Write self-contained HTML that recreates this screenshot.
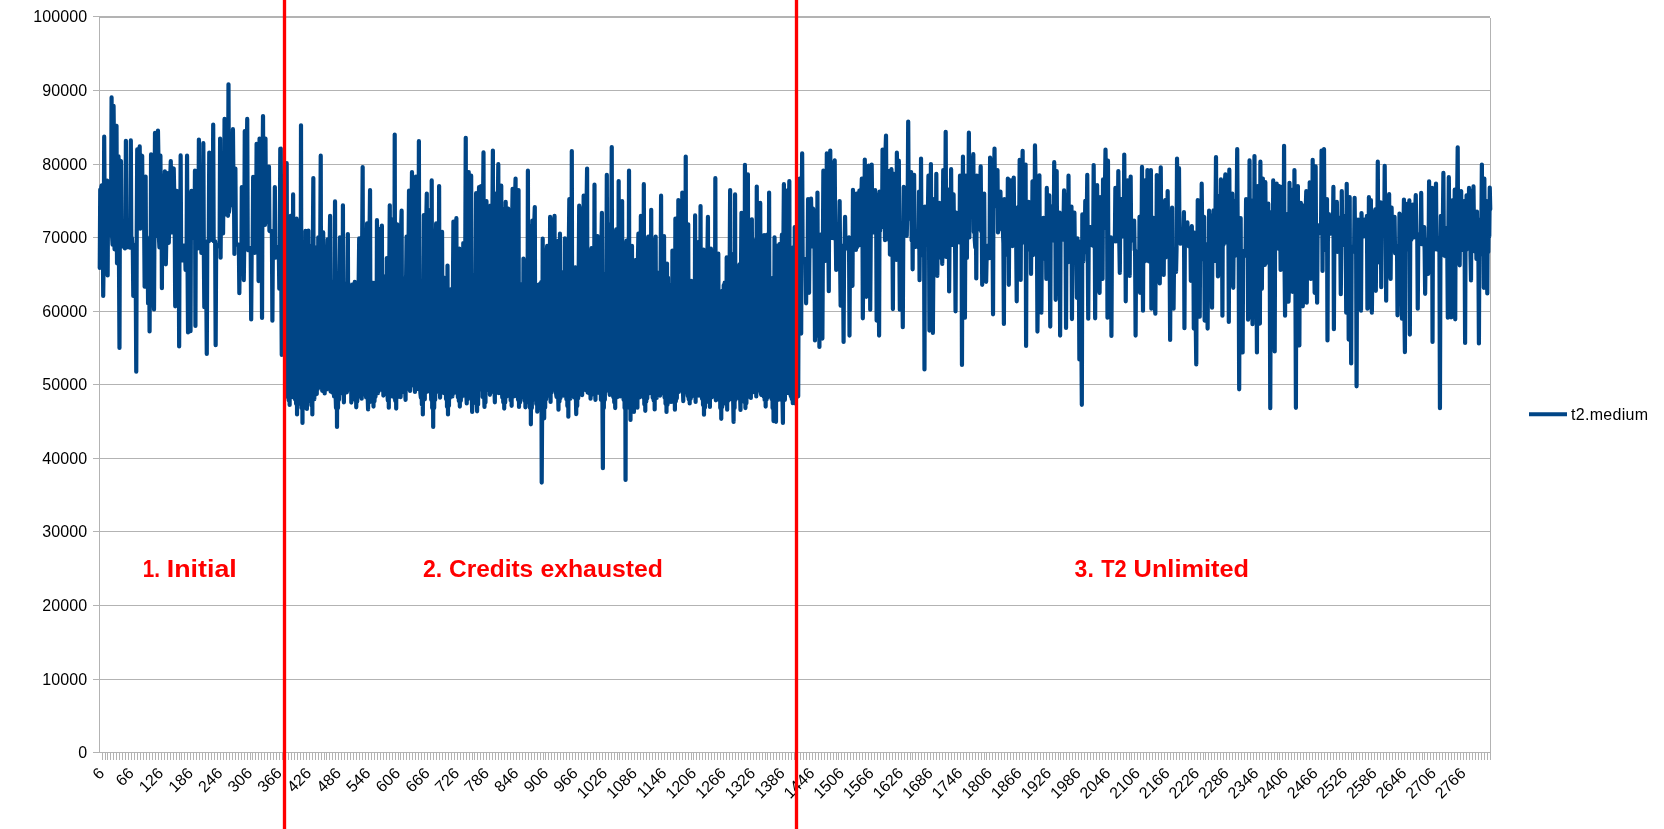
<!DOCTYPE html>
<html><head><meta charset="utf-8"><title>chart</title>
<style>
html,body{margin:0;padding:0;background:#fff;}
body{width:1664px;height:829px;overflow:hidden;font-family:"Liberation Sans",sans-serif;}
svg{display:block;font-family:"Liberation Sans",sans-serif;will-change:transform;-webkit-font-smoothing:antialiased;}
</style></head><body>
<svg width="1664" height="829" viewBox="0 0 1664 829">
<rect width="1664" height="829" fill="#ffffff"/>
<g shape-rendering="crispEdges" fill="#b3b3b3">
<rect x="93" y="752" width="1398" height="1"/>
<rect x="93" y="679" width="1398" height="1"/>
<rect x="93" y="605" width="1398" height="1"/>
<rect x="93" y="531" width="1398" height="1"/>
<rect x="93" y="458" width="1398" height="1"/>
<rect x="93" y="384" width="1398" height="1"/>
<rect x="93" y="311" width="1398" height="1"/>
<rect x="93" y="237" width="1398" height="1"/>
<rect x="93" y="164" width="1398" height="1"/>
<rect x="93" y="90" width="1398" height="1"/>
<rect x="93" y="16" width="6" height="1"/>
<rect x="99" y="16" width="1391" height="2"/>
<rect x="99" y="16" width="1" height="737"/>
<rect x="1490" y="18" width="1" height="742"/>
<path d="M102,753h1v7h-1zM105,753h1v7h-1zM107,753h1v7h-1zM110,753h1v7h-1zM113,753h1v7h-1zM116,753h1v7h-1zM119,753h1v7h-1zM122,753h1v7h-1zM125,753h1v7h-1zM128,753h1v7h-1zM131,753h1v7h-1zM134,753h1v7h-1zM137,753h1v7h-1zM140,753h1v7h-1zM143,753h1v7h-1zM146,753h1v7h-1zM149,753h1v7h-1zM152,753h1v7h-1zM155,753h1v7h-1zM158,753h1v7h-1zM161,753h1v7h-1zM164,753h1v7h-1zM167,753h1v7h-1zM170,753h1v7h-1zM173,753h1v7h-1zM176,753h1v7h-1zM179,753h1v7h-1zM181,753h1v7h-1zM184,753h1v7h-1zM187,753h1v7h-1zM190,753h1v7h-1zM193,753h1v7h-1zM196,753h1v7h-1zM199,753h1v7h-1zM202,753h1v7h-1zM205,753h1v7h-1zM208,753h1v7h-1zM211,753h1v7h-1zM214,753h1v7h-1zM217,753h1v7h-1zM220,753h1v7h-1zM223,753h1v7h-1zM226,753h1v7h-1zM229,753h1v7h-1zM232,753h1v7h-1zM235,753h1v7h-1zM238,753h1v7h-1zM241,753h1v7h-1zM244,753h1v7h-1zM247,753h1v7h-1zM250,753h1v7h-1zM252,753h1v7h-1zM255,753h1v7h-1zM258,753h1v7h-1zM261,753h1v7h-1zM264,753h1v7h-1zM267,753h1v7h-1zM270,753h1v7h-1zM273,753h1v7h-1zM276,753h1v7h-1zM279,753h1v7h-1zM282,753h1v7h-1zM285,753h1v7h-1zM288,753h1v7h-1zM291,753h1v7h-1zM294,753h1v7h-1zM297,753h1v7h-1zM300,753h1v7h-1zM303,753h1v7h-1zM306,753h1v7h-1zM309,753h1v7h-1zM312,753h1v7h-1zM315,753h1v7h-1zM318,753h1v7h-1zM321,753h1v7h-1zM324,753h1v7h-1zM326,753h1v7h-1zM329,753h1v7h-1zM332,753h1v7h-1zM335,753h1v7h-1zM338,753h1v7h-1zM341,753h1v7h-1zM344,753h1v7h-1zM347,753h1v7h-1zM350,753h1v7h-1zM353,753h1v7h-1zM356,753h1v7h-1zM359,753h1v7h-1zM362,753h1v7h-1zM365,753h1v7h-1zM368,753h1v7h-1zM371,753h1v7h-1zM374,753h1v7h-1zM377,753h1v7h-1zM380,753h1v7h-1zM383,753h1v7h-1zM386,753h1v7h-1zM389,753h1v7h-1zM392,753h1v7h-1zM395,753h1v7h-1zM398,753h1v7h-1zM400,753h1v7h-1zM403,753h1v7h-1zM406,753h1v7h-1zM409,753h1v7h-1zM412,753h1v7h-1zM415,753h1v7h-1zM418,753h1v7h-1zM421,753h1v7h-1zM424,753h1v7h-1zM427,753h1v7h-1zM430,753h1v7h-1zM433,753h1v7h-1zM436,753h1v7h-1zM439,753h1v7h-1zM442,753h1v7h-1zM445,753h1v7h-1zM448,753h1v7h-1zM451,753h1v7h-1zM454,753h1v7h-1zM457,753h1v7h-1zM460,753h1v7h-1zM463,753h1v7h-1zM466,753h1v7h-1zM469,753h1v7h-1zM472,753h1v7h-1zM474,753h1v7h-1zM477,753h1v7h-1zM480,753h1v7h-1zM483,753h1v7h-1zM486,753h1v7h-1zM489,753h1v7h-1zM492,753h1v7h-1zM495,753h1v7h-1zM498,753h1v7h-1zM501,753h1v7h-1zM504,753h1v7h-1zM507,753h1v7h-1zM510,753h1v7h-1zM513,753h1v7h-1zM516,753h1v7h-1zM519,753h1v7h-1zM522,753h1v7h-1zM525,753h1v7h-1zM528,753h1v7h-1zM531,753h1v7h-1zM534,753h1v7h-1zM537,753h1v7h-1zM540,753h1v7h-1zM543,753h1v7h-1zM545,753h1v7h-1zM548,753h1v7h-1zM551,753h1v7h-1zM554,753h1v7h-1zM557,753h1v7h-1zM560,753h1v7h-1zM563,753h1v7h-1zM566,753h1v7h-1zM569,753h1v7h-1zM572,753h1v7h-1zM575,753h1v7h-1zM578,753h1v7h-1zM581,753h1v7h-1zM584,753h1v7h-1zM587,753h1v7h-1zM590,753h1v7h-1zM593,753h1v7h-1zM596,753h1v7h-1zM599,753h1v7h-1zM602,753h1v7h-1zM605,753h1v7h-1zM608,753h1v7h-1zM611,753h1v7h-1zM614,753h1v7h-1zM617,753h1v7h-1zM619,753h1v7h-1zM622,753h1v7h-1zM625,753h1v7h-1zM628,753h1v7h-1zM631,753h1v7h-1zM634,753h1v7h-1zM637,753h1v7h-1zM640,753h1v7h-1zM643,753h1v7h-1zM646,753h1v7h-1zM649,753h1v7h-1zM652,753h1v7h-1zM655,753h1v7h-1zM658,753h1v7h-1zM661,753h1v7h-1zM664,753h1v7h-1zM667,753h1v7h-1zM670,753h1v7h-1zM673,753h1v7h-1zM676,753h1v7h-1zM679,753h1v7h-1zM682,753h1v7h-1zM685,753h1v7h-1zM688,753h1v7h-1zM691,753h1v7h-1zM693,753h1v7h-1zM696,753h1v7h-1zM699,753h1v7h-1zM702,753h1v7h-1zM705,753h1v7h-1zM708,753h1v7h-1zM711,753h1v7h-1zM714,753h1v7h-1zM717,753h1v7h-1zM720,753h1v7h-1zM723,753h1v7h-1zM726,753h1v7h-1zM729,753h1v7h-1zM732,753h1v7h-1zM735,753h1v7h-1zM738,753h1v7h-1zM741,753h1v7h-1zM744,753h1v7h-1zM747,753h1v7h-1zM750,753h1v7h-1zM753,753h1v7h-1zM756,753h1v7h-1zM759,753h1v7h-1zM762,753h1v7h-1zM765,753h1v7h-1zM767,753h1v7h-1zM770,753h1v7h-1zM773,753h1v7h-1zM776,753h1v7h-1zM779,753h1v7h-1zM782,753h1v7h-1zM785,753h1v7h-1zM788,753h1v7h-1zM791,753h1v7h-1zM794,753h1v7h-1zM797,753h1v7h-1zM800,753h1v7h-1zM803,753h1v7h-1zM806,753h1v7h-1zM809,753h1v7h-1zM812,753h1v7h-1zM815,753h1v7h-1zM818,753h1v7h-1zM821,753h1v7h-1zM824,753h1v7h-1zM827,753h1v7h-1zM830,753h1v7h-1zM833,753h1v7h-1zM836,753h1v7h-1zM838,753h1v7h-1zM841,753h1v7h-1zM844,753h1v7h-1zM847,753h1v7h-1zM850,753h1v7h-1zM853,753h1v7h-1zM856,753h1v7h-1zM859,753h1v7h-1zM862,753h1v7h-1zM865,753h1v7h-1zM868,753h1v7h-1zM871,753h1v7h-1zM874,753h1v7h-1zM877,753h1v7h-1zM880,753h1v7h-1zM883,753h1v7h-1zM886,753h1v7h-1zM889,753h1v7h-1zM892,753h1v7h-1zM895,753h1v7h-1zM898,753h1v7h-1zM901,753h1v7h-1zM904,753h1v7h-1zM907,753h1v7h-1zM910,753h1v7h-1zM912,753h1v7h-1zM915,753h1v7h-1zM918,753h1v7h-1zM921,753h1v7h-1zM924,753h1v7h-1zM927,753h1v7h-1zM930,753h1v7h-1zM933,753h1v7h-1zM936,753h1v7h-1zM939,753h1v7h-1zM942,753h1v7h-1zM945,753h1v7h-1zM948,753h1v7h-1zM951,753h1v7h-1zM954,753h1v7h-1zM957,753h1v7h-1zM960,753h1v7h-1zM963,753h1v7h-1zM966,753h1v7h-1zM969,753h1v7h-1zM972,753h1v7h-1zM975,753h1v7h-1zM978,753h1v7h-1zM981,753h1v7h-1zM984,753h1v7h-1zM986,753h1v7h-1zM989,753h1v7h-1zM992,753h1v7h-1zM995,753h1v7h-1zM998,753h1v7h-1zM1001,753h1v7h-1zM1004,753h1v7h-1zM1007,753h1v7h-1zM1010,753h1v7h-1zM1013,753h1v7h-1zM1016,753h1v7h-1zM1019,753h1v7h-1zM1022,753h1v7h-1zM1025,753h1v7h-1zM1028,753h1v7h-1zM1031,753h1v7h-1zM1034,753h1v7h-1zM1037,753h1v7h-1zM1040,753h1v7h-1zM1043,753h1v7h-1zM1046,753h1v7h-1zM1049,753h1v7h-1zM1052,753h1v7h-1zM1055,753h1v7h-1zM1058,753h1v7h-1zM1060,753h1v7h-1zM1063,753h1v7h-1zM1066,753h1v7h-1zM1069,753h1v7h-1zM1072,753h1v7h-1zM1075,753h1v7h-1zM1078,753h1v7h-1zM1081,753h1v7h-1zM1084,753h1v7h-1zM1087,753h1v7h-1zM1090,753h1v7h-1zM1093,753h1v7h-1zM1096,753h1v7h-1zM1099,753h1v7h-1zM1102,753h1v7h-1zM1105,753h1v7h-1zM1108,753h1v7h-1zM1111,753h1v7h-1zM1114,753h1v7h-1zM1117,753h1v7h-1zM1120,753h1v7h-1zM1123,753h1v7h-1zM1126,753h1v7h-1zM1129,753h1v7h-1zM1131,753h1v7h-1zM1134,753h1v7h-1zM1137,753h1v7h-1zM1140,753h1v7h-1zM1143,753h1v7h-1zM1146,753h1v7h-1zM1149,753h1v7h-1zM1152,753h1v7h-1zM1155,753h1v7h-1zM1158,753h1v7h-1zM1161,753h1v7h-1zM1164,753h1v7h-1zM1167,753h1v7h-1zM1170,753h1v7h-1zM1173,753h1v7h-1zM1176,753h1v7h-1zM1179,753h1v7h-1zM1182,753h1v7h-1zM1185,753h1v7h-1zM1188,753h1v7h-1zM1191,753h1v7h-1zM1194,753h1v7h-1zM1197,753h1v7h-1zM1200,753h1v7h-1zM1203,753h1v7h-1zM1205,753h1v7h-1zM1208,753h1v7h-1zM1211,753h1v7h-1zM1214,753h1v7h-1zM1217,753h1v7h-1zM1220,753h1v7h-1zM1223,753h1v7h-1zM1226,753h1v7h-1zM1229,753h1v7h-1zM1232,753h1v7h-1zM1235,753h1v7h-1zM1238,753h1v7h-1zM1241,753h1v7h-1zM1244,753h1v7h-1zM1247,753h1v7h-1zM1250,753h1v7h-1zM1253,753h1v7h-1zM1256,753h1v7h-1zM1259,753h1v7h-1zM1262,753h1v7h-1zM1265,753h1v7h-1zM1268,753h1v7h-1zM1271,753h1v7h-1zM1274,753h1v7h-1zM1277,753h1v7h-1zM1279,753h1v7h-1zM1282,753h1v7h-1zM1285,753h1v7h-1zM1288,753h1v7h-1zM1291,753h1v7h-1zM1294,753h1v7h-1zM1297,753h1v7h-1zM1300,753h1v7h-1zM1303,753h1v7h-1zM1306,753h1v7h-1zM1309,753h1v7h-1zM1312,753h1v7h-1zM1315,753h1v7h-1zM1318,753h1v7h-1zM1321,753h1v7h-1zM1324,753h1v7h-1zM1327,753h1v7h-1zM1330,753h1v7h-1zM1333,753h1v7h-1zM1336,753h1v7h-1zM1339,753h1v7h-1zM1342,753h1v7h-1zM1345,753h1v7h-1zM1348,753h1v7h-1zM1351,753h1v7h-1zM1353,753h1v7h-1zM1356,753h1v7h-1zM1359,753h1v7h-1zM1362,753h1v7h-1zM1365,753h1v7h-1zM1368,753h1v7h-1zM1371,753h1v7h-1zM1374,753h1v7h-1zM1377,753h1v7h-1zM1380,753h1v7h-1zM1383,753h1v7h-1zM1386,753h1v7h-1zM1389,753h1v7h-1zM1392,753h1v7h-1zM1395,753h1v7h-1zM1398,753h1v7h-1zM1401,753h1v7h-1zM1404,753h1v7h-1zM1407,753h1v7h-1zM1410,753h1v7h-1zM1413,753h1v7h-1zM1416,753h1v7h-1zM1419,753h1v7h-1zM1422,753h1v7h-1zM1424,753h1v7h-1zM1427,753h1v7h-1zM1430,753h1v7h-1zM1433,753h1v7h-1zM1436,753h1v7h-1zM1439,753h1v7h-1zM1442,753h1v7h-1zM1445,753h1v7h-1zM1448,753h1v7h-1zM1451,753h1v7h-1zM1454,753h1v7h-1zM1457,753h1v7h-1zM1460,753h1v7h-1zM1463,753h1v7h-1zM1466,753h1v7h-1zM1469,753h1v7h-1zM1472,753h1v7h-1zM1475,753h1v7h-1zM1478,753h1v7h-1zM1481,753h1v7h-1zM1484,753h1v7h-1zM1487,753h1v7h-1z"/>
</g>


<text x="87.3" y="758.0" text-anchor="end" font-size="16" fill="#000" letter-spacing="0.1">0</text>
<text x="87.3" y="685.0" text-anchor="end" font-size="16" fill="#000" letter-spacing="0.1">10000</text>
<text x="87.3" y="611.0" text-anchor="end" font-size="16" fill="#000" letter-spacing="0.1">20000</text>
<text x="87.3" y="537.0" text-anchor="end" font-size="16" fill="#000" letter-spacing="0.1">30000</text>
<text x="87.3" y="464.0" text-anchor="end" font-size="16" fill="#000" letter-spacing="0.1">40000</text>
<text x="87.3" y="390.0" text-anchor="end" font-size="16" fill="#000" letter-spacing="0.1">50000</text>
<text x="87.3" y="317.0" text-anchor="end" font-size="16" fill="#000" letter-spacing="0.1">60000</text>
<text x="87.3" y="243.0" text-anchor="end" font-size="16" fill="#000" letter-spacing="0.1">70000</text>
<text x="87.3" y="170.0" text-anchor="end" font-size="16" fill="#000" letter-spacing="0.1">80000</text>
<text x="87.3" y="96.0" text-anchor="end" font-size="16" fill="#000" letter-spacing="0.1">90000</text>
<text x="87.3" y="21.5" text-anchor="end" font-size="16" fill="#000" letter-spacing="0.1">100000</text>

<text transform="translate(105.2,774.3) rotate(-45)" text-anchor="end" font-size="16" fill="#000">6</text>
<text transform="translate(134.8,774.3) rotate(-45)" text-anchor="end" font-size="16" fill="#000">66</text>
<text transform="translate(164.4,774.3) rotate(-45)" text-anchor="end" font-size="16" fill="#000">126</text>
<text transform="translate(194.0,774.3) rotate(-45)" text-anchor="end" font-size="16" fill="#000">186</text>
<text transform="translate(223.6,774.3) rotate(-45)" text-anchor="end" font-size="16" fill="#000">246</text>
<text transform="translate(253.2,774.3) rotate(-45)" text-anchor="end" font-size="16" fill="#000">306</text>
<text transform="translate(282.8,774.3) rotate(-45)" text-anchor="end" font-size="16" fill="#000">366</text>
<text transform="translate(312.4,774.3) rotate(-45)" text-anchor="end" font-size="16" fill="#000">426</text>
<text transform="translate(342.0,774.3) rotate(-45)" text-anchor="end" font-size="16" fill="#000">486</text>
<text transform="translate(371.6,774.3) rotate(-45)" text-anchor="end" font-size="16" fill="#000">546</text>
<text transform="translate(401.2,774.3) rotate(-45)" text-anchor="end" font-size="16" fill="#000">606</text>
<text transform="translate(430.8,774.3) rotate(-45)" text-anchor="end" font-size="16" fill="#000">666</text>
<text transform="translate(460.4,774.3) rotate(-45)" text-anchor="end" font-size="16" fill="#000">726</text>
<text transform="translate(490.0,774.3) rotate(-45)" text-anchor="end" font-size="16" fill="#000">786</text>
<text transform="translate(519.6,774.3) rotate(-45)" text-anchor="end" font-size="16" fill="#000">846</text>
<text transform="translate(549.2,774.3) rotate(-45)" text-anchor="end" font-size="16" fill="#000">906</text>
<text transform="translate(578.8,774.3) rotate(-45)" text-anchor="end" font-size="16" fill="#000">966</text>
<text transform="translate(608.4,774.3) rotate(-45)" text-anchor="end" font-size="16" fill="#000">1026</text>
<text transform="translate(638.0,774.3) rotate(-45)" text-anchor="end" font-size="16" fill="#000">1086</text>
<text transform="translate(667.6,774.3) rotate(-45)" text-anchor="end" font-size="16" fill="#000">1146</text>
<text transform="translate(697.2,774.3) rotate(-45)" text-anchor="end" font-size="16" fill="#000">1206</text>
<text transform="translate(726.8,774.3) rotate(-45)" text-anchor="end" font-size="16" fill="#000">1266</text>
<text transform="translate(756.4,774.3) rotate(-45)" text-anchor="end" font-size="16" fill="#000">1326</text>
<text transform="translate(785.9,774.3) rotate(-45)" text-anchor="end" font-size="16" fill="#000">1386</text>
<text transform="translate(815.5,774.3) rotate(-45)" text-anchor="end" font-size="16" fill="#000">1446</text>
<text transform="translate(845.1,774.3) rotate(-45)" text-anchor="end" font-size="16" fill="#000">1506</text>
<text transform="translate(874.7,774.3) rotate(-45)" text-anchor="end" font-size="16" fill="#000">1566</text>
<text transform="translate(904.3,774.3) rotate(-45)" text-anchor="end" font-size="16" fill="#000">1626</text>
<text transform="translate(933.9,774.3) rotate(-45)" text-anchor="end" font-size="16" fill="#000">1686</text>
<text transform="translate(963.5,774.3) rotate(-45)" text-anchor="end" font-size="16" fill="#000">1746</text>
<text transform="translate(993.1,774.3) rotate(-45)" text-anchor="end" font-size="16" fill="#000">1806</text>
<text transform="translate(1022.7,774.3) rotate(-45)" text-anchor="end" font-size="16" fill="#000">1866</text>
<text transform="translate(1052.3,774.3) rotate(-45)" text-anchor="end" font-size="16" fill="#000">1926</text>
<text transform="translate(1081.9,774.3) rotate(-45)" text-anchor="end" font-size="16" fill="#000">1986</text>
<text transform="translate(1111.5,774.3) rotate(-45)" text-anchor="end" font-size="16" fill="#000">2046</text>
<text transform="translate(1141.1,774.3) rotate(-45)" text-anchor="end" font-size="16" fill="#000">2106</text>
<text transform="translate(1170.7,774.3) rotate(-45)" text-anchor="end" font-size="16" fill="#000">2166</text>
<text transform="translate(1200.3,774.3) rotate(-45)" text-anchor="end" font-size="16" fill="#000">2226</text>
<text transform="translate(1229.9,774.3) rotate(-45)" text-anchor="end" font-size="16" fill="#000">2286</text>
<text transform="translate(1259.5,774.3) rotate(-45)" text-anchor="end" font-size="16" fill="#000">2346</text>
<text transform="translate(1289.1,774.3) rotate(-45)" text-anchor="end" font-size="16" fill="#000">2406</text>
<text transform="translate(1318.7,774.3) rotate(-45)" text-anchor="end" font-size="16" fill="#000">2466</text>
<text transform="translate(1348.3,774.3) rotate(-45)" text-anchor="end" font-size="16" fill="#000">2526</text>
<text transform="translate(1377.9,774.3) rotate(-45)" text-anchor="end" font-size="16" fill="#000">2586</text>
<text transform="translate(1407.5,774.3) rotate(-45)" text-anchor="end" font-size="16" fill="#000">2646</text>
<text transform="translate(1437.1,774.3) rotate(-45)" text-anchor="end" font-size="16" fill="#000">2706</text>
<text transform="translate(1466.7,774.3) rotate(-45)" text-anchor="end" font-size="16" fill="#000">2766</text>

<polyline points="99.75,268.0 100.24,189.5 100.73,230.4 101.23,187.5 101.72,185.3 102.21,264.6 102.71,219.1 103.20,296.0 103.69,254.1 104.19,136.7 104.68,207.6 105.17,253.7 105.67,221.9 106.16,257.0 106.65,239.7 107.15,180.6 107.64,275.5 108.13,189.0 108.63,213.9 109.12,221.1 109.61,189.2 110.11,234.4 110.60,204.8 111.09,205.9 111.58,97.4 112.08,236.1 112.57,244.7 113.06,163.5 113.56,105.8 114.05,152.3 114.54,249.3 115.04,128.3 115.53,196.0 116.02,127.9 116.52,125.8 117.01,263.3 117.50,161.0 118.00,255.6 118.49,156.3 118.98,261.1 119.48,348.0 119.97,171.0 120.46,163.2 120.96,161.0 121.45,246.1 121.94,243.8 122.44,246.3 122.93,243.9 123.42,245.1 123.92,243.8 124.41,245.3 124.90,248.4 125.40,243.9 125.89,140.8 126.38,247.1 126.88,247.1 127.37,247.1 127.86,247.1 128.36,247.1 128.85,247.1 129.34,247.1 129.84,247.6 130.33,247.6 130.82,140.4 131.32,247.3 131.81,237.7 132.30,244.7 132.80,246.9 133.29,296.0 133.78,248.8 134.28,294.0 134.77,283.3 135.26,245.0 135.75,282.4 136.25,371.7 136.74,230.6 137.23,149.4 137.73,225.5 138.22,153.2 138.71,167.5 139.21,197.0 139.70,146.4 140.19,228.7 140.69,163.1 141.18,226.7 141.67,158.9 142.17,155.7 142.66,226.2 143.15,178.9 143.65,208.6 144.14,222.8 144.63,286.7 145.13,192.9 145.62,176.5 146.11,277.1 146.61,237.1 147.10,268.2 147.59,239.2 148.09,303.5 148.58,299.4 149.07,239.6 149.57,331.5 150.06,241.5 150.55,296.9 151.05,154.4 151.54,268.5 152.03,230.7 152.53,305.5 153.02,190.8 153.51,253.5 154.01,309.5 154.50,221.8 154.99,132.9 155.49,201.7 155.98,230.0 156.47,148.1 156.97,175.4 157.46,236.1 157.95,130.5 158.44,158.9 158.94,237.9 159.43,247.4 159.92,161.6 160.42,155.7 160.91,227.8 161.40,175.1 161.90,288.2 162.39,180.1 162.88,232.7 163.38,190.2 163.87,177.9 164.36,250.7 164.86,171.3 165.35,219.5 165.84,264.3 166.34,236.7 166.83,217.5 167.32,207.7 167.82,173.1 168.31,232.5 168.80,242.8 169.30,215.2 169.79,230.4 170.28,176.3 170.78,161.0 171.27,229.7 171.76,232.5 172.26,205.6 172.75,186.6 173.24,170.5 173.74,168.5 174.23,193.9 174.72,225.0 175.22,306.3 175.71,194.3 176.20,272.8 176.70,190.9 177.19,293.9 177.68,233.6 178.18,303.5 178.67,224.3 179.16,346.5 179.66,194.1 180.15,257.9 180.64,155.4 181.13,252.4 181.63,244.6 182.12,256.0 182.61,260.5 183.11,249.4 183.60,256.0 184.09,245.6 184.59,258.2 185.08,251.7 185.57,269.9 186.07,252.4 186.56,261.7 187.05,155.7 187.55,265.5 188.04,332.5 188.53,323.9 189.03,193.9 189.52,311.9 190.01,196.8 190.51,331.2 191.00,196.6 191.49,190.9 191.99,206.1 192.48,233.4 192.97,193.4 193.47,229.7 193.96,193.5 194.45,238.1 194.95,170.7 195.44,325.9 195.93,179.1 196.43,245.7 196.92,239.9 197.41,182.5 197.91,248.4 198.40,235.2 198.89,139.5 199.39,246.0 199.88,165.3 200.37,244.8 200.87,179.1 201.36,253.0 201.85,195.1 202.35,242.4 202.84,249.6 203.33,143.2 203.82,249.9 204.32,307.2 204.81,257.2 205.30,305.2 205.80,271.6 206.29,289.3 206.78,354.0 207.28,241.4 207.77,241.4 208.26,241.4 208.76,241.4 209.25,152.6 209.74,211.7 210.24,191.7 210.73,201.9 211.22,164.7 211.72,240.0 212.21,165.4 212.70,224.4 213.20,124.5 213.69,241.3 214.18,241.3 214.68,241.3 215.17,241.3 215.66,345.2 216.16,245.1 216.65,245.2 217.14,244.7 217.64,246.0 218.13,244.9 218.62,246.1 219.12,244.5 219.61,245.8 220.10,138.6 220.60,257.7 221.09,191.7 221.58,211.1 222.08,167.5 222.57,225.1 223.06,233.4 223.56,173.6 224.05,215.3 224.54,118.9 225.04,192.4 225.53,151.3 226.02,157.1 226.52,191.1 227.01,194.4 227.50,159.8 227.99,215.8 228.49,84.3 228.98,212.0 229.47,207.6 229.97,133.6 230.46,205.6 230.95,143.1 231.45,144.0 231.94,199.4 232.43,162.6 232.93,129.2 233.42,179.3 233.91,183.3 234.41,254.0 234.90,178.7 235.39,168.5 235.89,243.3 236.38,243.9 236.87,244.6 237.37,244.6 237.86,244.6 238.35,244.6 238.85,244.6 239.34,293.2 239.83,247.1 240.33,270.2 240.82,262.3 241.31,273.1 241.81,187.1 242.30,256.2 242.79,193.5 243.29,197.8 243.78,280.1 244.27,242.6 244.77,131.1 245.26,226.9 245.75,188.9 246.25,205.4 246.74,158.2 247.23,118.9 247.73,248.0 248.22,250.2 248.71,247.8 249.21,248.2 249.70,247.9 250.19,248.1 250.68,247.9 251.18,319.4 251.67,250.0 252.16,247.9 252.66,250.1 253.15,176.9 253.64,215.7 254.14,209.9 254.63,253.0 255.12,184.8 255.62,245.8 256.11,233.4 256.60,143.8 257.10,250.9 257.59,236.9 258.08,194.0 258.58,281.1 259.07,189.7 259.56,138.6 260.06,275.3 260.55,173.3 261.04,252.6 261.54,202.3 262.03,317.9 262.52,168.7 263.02,116.1 263.51,221.8 264.00,162.7 264.50,183.5 264.99,225.0 265.48,138.6 265.98,220.4 266.47,183.2 266.96,176.2 267.46,221.8 267.95,176.1 268.44,194.9 268.94,166.6 269.43,230.7 269.92,231.2 270.42,231.2 270.91,231.2 271.40,231.2 271.90,231.2 272.39,320.7 272.88,242.8 273.38,240.4 273.87,241.1 274.36,255.5 274.85,187.1 275.35,257.7 275.84,249.1 276.33,252.7 276.83,246.8 277.32,252.8 277.81,247.5 278.31,254.6 278.80,249.9 279.29,288.6 279.79,246.4 280.28,148.8 280.77,148.6 281.27,271.9 281.76,354.9 282.25,240.9 282.75,240.9 283.24,241.1 283.73,241.1 284.23,240.9 284.72,241.1 285.21,240.9 285.71,241.1 286.20,240.1 286.69,163.2 287.19,392.6 287.68,396.9 288.17,223.3 288.67,400.3 289.16,219.4 289.65,405.0 290.15,223.6 290.64,215.9 291.13,385.3 291.63,396.8 292.12,229.5 292.61,397.1 293.11,194.4 293.60,389.7 294.09,236.4 294.59,390.9 295.08,399.4 295.57,222.1 296.07,403.7 296.56,218.7 297.05,414.4 297.54,255.2 298.04,404.0 298.53,220.8 299.02,397.6 299.52,235.0 300.01,403.0 300.50,399.8 301.00,125.3 301.49,408.0 301.98,252.1 302.48,423.0 302.97,246.9 303.46,408.0 303.96,246.2 304.45,399.8 304.94,397.3 305.44,230.9 305.93,401.3 306.42,250.9 306.92,408.9 307.41,234.3 307.90,401.2 308.40,230.5 308.89,397.4 309.38,265.1 309.88,401.5 310.37,399.6 310.86,245.8 311.36,405.3 311.85,257.7 312.34,414.4 312.84,248.6 313.33,178.0 313.82,390.7 314.32,399.2 314.81,259.3 315.30,392.0 315.80,247.7 316.29,391.8 316.78,394.0 317.28,250.9 317.77,389.0 318.26,237.4 318.76,381.4 319.25,239.5 319.74,385.8 320.23,244.7 320.73,155.7 321.22,387.4 321.71,241.6 322.21,390.8 322.70,241.9 323.19,232.4 323.69,391.4 324.18,259.4 324.67,393.5 325.17,255.4 325.66,387.2 326.15,246.5 326.65,389.5 327.14,254.5 327.63,239.3 328.13,388.0 328.62,241.5 329.11,380.0 329.61,248.6 330.10,215.9 330.59,391.6 331.09,286.1 331.58,391.4 332.07,287.1 332.57,392.7 333.06,281.5 333.55,386.3 334.05,396.4 334.54,281.6 335.03,201.4 335.53,393.1 336.02,408.0 336.51,273.5 337.01,426.9 337.50,285.4 337.99,408.0 338.49,272.5 338.98,399.8 339.47,269.5 339.97,237.4 340.46,393.5 340.95,252.1 341.45,390.5 341.94,253.0 342.43,392.8 342.93,205.3 343.42,388.8 343.91,402.3 344.40,286.7 344.90,392.7 345.39,289.8 345.88,391.6 346.38,283.4 346.87,392.3 347.36,289.5 347.86,234.1 348.35,383.4 348.84,284.0 349.34,389.2 349.83,291.8 350.32,389.8 350.82,289.9 351.31,402.6 351.80,285.7 352.30,394.4 352.79,284.3 353.28,396.5 353.78,289.3 354.27,396.4 354.76,281.9 355.26,400.1 355.75,294.6 356.24,407.3 356.74,283.6 357.23,401.6 357.72,286.1 358.22,396.4 358.71,277.9 359.20,238.4 359.70,391.6 360.19,243.4 360.68,391.9 361.18,249.5 361.67,398.7 362.16,242.7 362.66,167.0 363.15,388.6 363.64,231.5 364.14,394.3 364.63,237.9 365.12,390.4 365.62,231.6 366.11,397.4 366.60,251.3 367.09,223.4 367.59,393.0 368.08,409.4 368.57,231.9 369.07,402.4 369.56,232.3 370.05,190.1 370.55,399.6 371.04,283.5 371.53,396.8 372.03,282.7 372.52,402.0 373.01,298.3 373.51,406.6 374.00,282.8 374.49,401.2 374.99,292.6 375.48,396.8 375.97,283.2 376.47,388.9 376.96,220.2 377.45,383.1 377.95,393.2 378.44,232.4 378.93,390.8 379.43,229.0 379.92,389.9 380.41,255.2 380.91,386.3 381.40,235.4 381.89,225.7 382.39,389.4 382.88,276.6 383.37,395.6 383.87,276.4 384.36,391.9 384.85,285.0 385.35,389.7 385.84,276.9 386.33,393.0 386.83,258.0 387.32,391.8 387.81,400.5 388.31,265.6 388.80,407.7 389.29,267.8 389.78,205.3 390.28,394.1 390.77,396.4 391.26,235.9 391.76,388.0 392.25,219.7 392.74,385.2 393.24,231.9 393.73,391.7 394.22,397.6 394.72,134.6 395.21,400.8 395.70,235.8 396.20,408.6 396.69,243.7 397.18,224.3 397.68,384.9 398.17,396.8 398.66,241.6 399.16,392.7 399.65,230.2 400.14,392.1 400.64,397.1 401.13,227.5 401.62,210.7 402.12,385.1 402.61,278.1 403.10,388.1 403.60,279.5 404.09,392.3 404.58,283.7 405.08,388.3 405.57,399.8 406.06,282.0 406.56,236.5 407.05,388.8 407.54,244.7 408.04,385.9 408.53,249.0 409.02,190.7 409.52,383.4 410.01,390.9 410.50,205.3 411.00,385.8 411.49,220.7 411.98,172.0 412.48,379.8 412.97,185.8 413.46,383.1 413.95,183.7 414.45,381.3 414.94,392.0 415.43,183.7 415.93,176.7 416.42,382.2 416.91,180.7 417.41,380.9 417.90,197.1 418.39,389.2 418.89,141.2 419.38,384.5 419.87,282.4 420.37,393.1 420.86,397.6 421.35,288.5 421.85,404.4 422.34,283.5 422.83,414.4 423.33,287.4 423.82,215.0 424.31,389.0 424.81,399.3 425.30,224.9 425.79,387.6 426.29,220.4 426.78,193.5 427.27,391.7 427.77,239.7 428.26,389.0 428.75,220.4 429.25,210.3 429.74,384.9 430.23,213.4 430.73,374.9 431.22,399.8 431.71,180.4 432.21,408.0 432.70,233.9 433.19,426.9 433.69,233.8 434.18,408.0 434.67,235.9 435.17,399.8 435.66,247.4 436.15,223.4 436.64,391.5 437.14,228.2 437.63,390.8 438.12,236.4 438.62,391.9 439.11,186.0 439.60,382.9 440.10,397.6 440.59,243.0 441.08,387.3 441.58,236.9 442.07,231.8 442.56,387.0 443.06,281.9 443.55,384.0 444.04,393.2 444.54,277.9 445.03,384.0 445.52,281.8 446.02,399.1 446.51,281.7 447.00,406.7 447.50,265.5 447.99,414.4 448.48,289.5 448.98,405.7 449.47,291.7 449.96,397.8 450.46,289.4 450.95,393.7 451.44,293.4 451.94,388.8 452.43,396.4 452.92,290.2 453.42,221.5 453.91,389.2 454.40,250.6 454.90,392.7 455.39,231.1 455.88,388.4 456.38,218.2 456.87,384.2 457.36,255.5 457.86,397.3 458.35,263.0 458.84,400.9 459.33,248.6 459.83,406.6 460.32,254.5 460.81,400.8 461.31,264.5 461.80,396.7 462.29,255.6 462.79,389.8 463.28,243.0 463.77,388.4 464.27,246.5 464.76,395.7 465.25,256.5 465.75,137.8 466.24,390.8 466.73,403.4 467.23,185.8 467.72,399.3 468.21,178.6 468.71,172.0 469.20,396.5 469.69,195.4 470.19,397.7 470.68,188.7 471.17,175.7 471.67,390.4 472.16,412.0 472.65,274.8 473.15,403.3 473.64,279.3 474.13,397.4 474.63,275.2 475.12,397.7 475.61,280.5 476.11,193.1 476.60,397.3 477.09,411.3 477.59,208.9 478.08,404.6 478.57,208.1 479.07,187.0 479.56,387.4 480.05,220.1 480.55,387.7 481.04,186.0 481.53,389.8 482.03,192.5 482.52,397.0 483.01,208.3 483.50,152.4 484.00,386.1 484.49,407.0 484.98,219.0 485.48,402.5 485.97,207.8 486.46,201.0 486.96,390.4 487.45,237.4 487.94,387.9 488.44,223.0 488.93,385.9 489.42,216.4 489.92,394.8 490.41,205.7 490.90,392.3 491.40,227.6 491.89,380.8 492.38,218.8 492.88,150.5 493.37,391.1 493.86,198.3 494.36,383.0 494.85,402.3 495.34,201.7 495.84,193.5 496.33,384.3 496.82,205.7 497.32,383.5 497.81,206.0 498.30,164.2 498.80,393.2 499.29,192.8 499.78,377.7 500.28,192.2 500.77,390.4 501.26,185.7 501.76,376.5 502.25,397.5 502.74,208.8 503.24,402.2 503.73,215.1 504.22,408.6 504.72,214.0 505.21,402.4 505.70,201.9 506.19,396.8 506.69,225.7 507.18,387.5 507.67,226.0 508.17,208.5 508.66,391.1 509.15,218.6 509.65,396.3 510.14,212.7 510.63,400.2 511.13,210.6 511.62,405.8 512.11,223.1 512.61,188.8 513.10,390.5 513.59,396.5 514.09,219.9 514.58,391.4 515.07,196.6 515.57,178.6 516.06,392.6 516.55,196.5 517.05,396.6 517.54,209.5 518.03,399.8 518.53,190.1 519.02,407.0 519.51,287.6 520.01,402.5 520.50,284.2 520.99,397.2 521.49,288.0 521.98,393.0 522.47,292.3 522.97,397.1 523.46,258.6 523.95,393.9 524.45,400.6 524.94,261.2 525.43,407.3 525.93,271.3 526.42,402.4 526.91,271.0 527.41,397.2 527.90,170.7 528.39,395.4 528.88,399.8 529.38,226.4 529.87,407.7 530.36,236.5 530.86,424.3 531.35,235.7 531.84,408.0 532.34,220.6 532.83,399.8 533.32,226.5 533.82,394.8 534.31,222.7 534.80,207.0 535.30,397.4 535.79,286.3 536.28,403.9 536.78,287.2 537.27,411.7 537.76,286.4 538.26,402.1 538.75,284.5 539.24,398.7 539.74,399.8 540.23,283.5 540.72,408.0 541.22,282.0 541.71,482.6 542.20,399.2 542.70,238.7 543.19,408.0 543.68,399.8 544.18,418.3 544.67,250.3 545.16,407.5 545.66,258.2 546.15,399.3 546.64,253.2 547.14,245.8 547.63,388.2 548.12,249.0 548.62,392.1 549.11,248.8 549.60,396.0 550.10,216.9 550.59,401.9 551.08,243.8 551.58,392.5 552.07,234.6 552.56,390.0 553.05,222.8 553.55,381.2 554.04,221.4 554.53,215.9 555.03,389.5 555.52,253.8 556.01,392.9 556.51,396.8 557.00,250.3 557.49,241.2 557.99,385.2 558.48,409.7 558.97,250.8 559.47,401.5 559.96,233.7 560.45,398.1 560.95,275.1 561.44,392.3 561.93,278.7 562.43,393.5 562.92,272.1 563.41,395.6 563.91,290.0 564.40,391.0 564.89,238.4 565.39,390.7 565.88,245.1 566.37,399.2 566.87,255.1 567.36,406.1 567.85,257.3 568.35,416.7 568.84,243.3 569.33,199.1 569.83,389.8 570.32,398.7 570.81,220.3 571.31,392.0 571.80,151.1 572.29,392.0 572.79,271.5 573.28,395.3 573.77,270.1 574.27,397.6 574.76,269.3 575.25,267.3 575.74,390.6 576.24,414.1 576.73,270.5 577.22,406.1 577.72,270.7 578.21,398.3 578.70,271.7 579.20,205.7 579.69,390.9 580.18,219.3 580.68,389.8 581.17,208.3 581.66,389.4 582.16,395.1 582.65,209.2 583.14,389.1 583.64,195.7 584.13,379.4 584.62,215.9 585.12,390.0 585.61,198.5 586.10,378.1 586.60,202.2 587.09,168.6 587.58,392.6 588.08,253.1 588.57,391.5 589.06,264.3 589.56,393.6 590.05,271.4 590.54,398.7 591.04,259.0 591.53,248.1 592.02,391.5 592.52,260.2 593.01,385.8 593.50,253.4 594.00,394.7 594.49,184.7 594.98,390.0 595.48,399.8 595.97,251.8 596.46,387.5 596.96,241.9 597.45,236.1 597.94,386.0 598.43,239.6 598.93,393.0 599.42,241.9 599.91,389.8 600.41,242.3 600.90,399.8 601.39,246.5 601.89,212.8 602.38,395.5 602.87,468.2 603.37,286.7 603.86,408.0 604.35,289.5 604.85,399.8 605.34,273.5 605.83,391.0 606.33,276.7 606.82,174.8 607.31,387.2 607.81,228.1 608.30,386.7 608.79,224.3 609.29,388.7 609.78,394.8 610.27,227.5 610.77,391.9 611.26,230.7 611.75,147.1 612.25,391.4 612.74,248.9 613.23,397.1 613.73,238.2 614.22,402.2 614.71,234.8 615.21,408.1 615.70,233.2 616.19,229.4 616.69,389.6 617.18,397.2 617.67,245.3 618.17,388.1 618.66,181.0 619.15,389.1 619.65,223.7 620.14,396.4 620.63,222.0 621.12,389.4 621.62,218.8 622.11,201.0 622.60,391.0 623.10,247.9 623.59,399.8 624.08,259.8 624.58,408.0 625.07,243.0 625.56,479.9 626.06,257.2 626.55,240.6 627.04,399.1 627.54,399.8 628.03,253.1 628.52,399.8 629.02,170.7 629.51,408.0 630.00,255.4 630.50,419.9 630.99,248.7 631.48,407.1 631.98,245.8 632.47,399.8 632.96,405.5 633.46,268.4 633.95,412.0 634.44,270.0 634.94,402.2 635.43,396.4 635.92,259.9 636.42,402.8 636.91,265.3 637.40,407.7 637.90,262.3 638.39,233.7 638.88,390.8 639.38,397.4 639.87,255.2 640.36,391.8 640.86,215.9 641.35,388.6 641.84,218.0 642.34,391.0 642.83,223.9 643.32,397.6 643.82,184.2 644.31,404.3 644.80,259.5 645.29,410.8 645.79,254.0 646.28,401.6 646.77,244.5 647.27,398.3 647.76,239.4 648.25,236.5 648.75,384.4 649.24,241.2 649.73,393.2 650.23,240.1 650.72,376.8 651.21,209.8 651.71,390.7 652.20,260.9 652.69,397.7 653.19,245.9 653.68,400.5 654.17,239.8 654.67,409.4 655.16,252.3 655.65,236.5 656.15,392.1 656.64,397.9 657.13,274.6 657.63,392.1 658.12,272.9 658.61,389.8 659.11,278.2 659.60,391.3 660.09,395.6 660.59,275.7 661.08,195.7 661.57,386.1 662.07,246.7 662.56,390.0 663.05,255.7 663.55,393.2 664.04,236.1 664.53,397.6 665.03,272.1 665.52,403.8 666.01,269.2 666.51,412.0 667.00,263.6 667.49,404.7 667.98,277.5 668.48,397.5 668.97,285.2 669.46,394.1 669.96,285.0 670.45,398.8 670.94,401.9 671.44,290.7 671.93,395.3 672.42,250.5 672.92,397.3 673.41,262.6 673.90,402.0 674.40,270.2 674.89,409.7 675.38,218.7 675.88,401.3 676.37,224.4 676.86,398.2 677.36,235.9 677.85,389.5 678.34,200.0 678.84,391.9 679.33,202.1 679.82,390.3 680.32,222.5 680.81,386.8 681.30,219.7 681.80,385.5 682.29,192.6 682.78,383.7 683.28,401.1 683.77,199.5 684.26,389.3 684.76,227.7 685.25,388.3 685.74,156.5 686.24,393.0 686.73,231.9 687.22,381.5 687.72,395.9 688.21,224.3 688.70,399.3 689.20,281.2 689.69,403.4 690.18,286.2 690.68,398.7 691.17,280.9 691.66,396.5 692.15,288.4 692.65,391.5 693.14,283.2 693.63,392.3 694.13,283.7 694.62,387.9 695.11,215.4 695.61,401.9 696.10,253.1 696.59,389.4 697.09,249.6 697.58,391.0 698.07,242.1 698.57,386.0 699.06,395.6 699.55,244.3 700.05,383.9 700.54,206.0 701.03,388.9 701.53,254.1 702.02,398.7 702.51,265.6 703.01,404.9 703.50,249.6 703.99,414.7 704.49,255.3 704.98,407.6 705.47,257.0 705.97,398.7 706.46,266.7 706.95,396.8 707.45,251.6 707.94,216.9 708.43,398.4 708.93,402.3 709.42,258.4 709.91,407.0 710.41,262.7 710.90,248.6 711.39,394.9 711.89,397.2 712.38,268.2 712.87,394.7 713.37,250.9 713.86,391.9 714.35,260.9 714.84,388.2 715.34,178.2 715.83,400.3 716.32,274.4 716.82,391.6 717.31,271.2 717.80,395.3 718.30,253.7 718.79,396.8 719.28,399.8 719.78,292.1 720.27,407.9 720.76,291.7 721.26,418.8 721.75,297.5 722.24,406.9 722.74,290.5 723.23,399.4 723.72,285.2 724.22,397.6 724.71,282.6 725.20,397.4 725.70,295.1 726.19,404.1 726.68,257.4 727.18,409.7 727.67,265.0 728.16,400.8 728.66,264.7 729.15,397.6 729.64,271.5 730.14,190.1 730.63,387.2 731.12,263.5 731.62,399.6 732.11,278.1 732.60,254.3 733.10,397.0 733.59,421.9 734.08,257.7 734.58,408.0 735.07,194.4 735.56,399.8 736.06,283.9 736.55,394.3 737.04,266.6 737.53,393.2 738.03,280.9 738.52,397.9 739.01,267.1 739.51,264.5 740.00,391.2 740.49,410.0 740.99,271.4 741.48,212.8 741.97,398.1 742.47,397.9 742.96,215.8 743.45,396.9 743.95,215.1 744.44,402.1 744.93,164.9 745.43,408.1 745.92,190.7 746.41,403.2 746.91,194.9 747.40,397.0 747.89,174.3 748.39,387.5 748.88,235.6 749.37,390.1 749.87,222.4 750.36,391.3 750.85,397.9 751.35,224.0 751.84,219.3 752.33,391.1 752.83,250.1 753.32,392.1 753.81,252.7 754.31,390.6 754.80,240.2 755.29,392.3 755.79,258.8 756.28,396.4 756.77,186.6 757.27,387.8 757.76,206.9 758.25,390.1 758.75,220.1 759.24,388.2 759.73,241.9 760.23,202.9 760.72,392.6 761.21,394.8 761.70,253.0 762.20,387.0 762.69,264.3 763.18,390.0 763.68,396.5 764.17,235.2 764.66,399.9 765.16,238.0 765.65,406.6 766.14,240.0 766.64,399.4 767.13,234.6 767.62,397.3 768.12,240.5 768.61,391.8 769.10,192.6 769.60,390.0 770.09,283.9 770.58,388.8 771.08,283.4 771.57,399.1 772.06,278.0 772.56,408.0 773.05,286.2 773.54,421.1 774.04,399.8 774.53,237.4 775.02,408.0 775.52,399.8 776.01,421.8 776.50,255.3 777.00,245.8 777.49,392.9 777.98,399.8 778.48,255.2 778.97,395.4 779.46,244.0 779.96,397.6 780.45,258.2 780.94,399.8 781.44,259.7 781.93,234.6 782.42,395.2 782.92,423.0 783.41,243.5 783.90,184.2 784.39,393.8 784.89,399.8 785.38,199.2 785.87,380.7 786.37,199.5 786.86,190.7 787.35,385.3 787.85,200.5 788.34,393.2 788.83,217.6 789.33,181.0 789.82,381.8 790.31,262.1 790.81,396.2 791.30,252.0 791.79,398.9 792.29,252.2 792.78,403.2 793.27,247.3 793.77,399.3 794.26,398.4 794.75,227.1 795.25,403.4 795.74,245.4 796.23,398.1 796.73,236.1 797.22,396.0 797.71,386.2 798.21,396.3 798.70,248.6 799.19,328.2 799.69,178.6 800.18,303.8 800.67,239.4 801.17,333.6 801.66,208.6 802.15,153.3 802.65,259.6 803.14,259.6 803.63,259.6 804.13,259.6 804.62,258.9 805.11,259.6 805.61,259.6 806.10,303.3 806.59,262.0 807.08,290.8 807.58,270.8 808.07,199.1 808.56,211.7 809.06,292.8 809.55,235.0 810.04,240.4 810.54,203.5 811.03,198.6 811.52,220.6 812.02,246.4 812.51,211.0 813.00,208.5 813.50,210.5 813.99,226.6 814.48,241.3 814.98,340.5 815.47,210.5 815.96,335.9 816.46,213.0 816.95,335.6 817.44,192.6 817.94,316.5 818.43,319.6 818.92,237.8 819.42,346.9 819.91,270.2 820.40,234.6 820.90,335.7 821.39,316.6 821.88,255.2 822.38,338.6 822.87,253.9 823.36,170.7 823.86,207.8 824.35,252.8 824.84,176.1 825.34,261.0 825.83,252.3 826.32,252.4 826.82,153.3 827.31,241.8 827.80,157.1 828.30,240.5 828.79,291.2 829.28,158.7 829.77,219.1 830.27,150.5 830.76,238.1 831.25,167.7 831.75,195.8 832.24,218.1 832.73,179.7 833.23,238.2 833.72,175.1 834.21,163.0 834.71,160.4 835.20,238.6 835.69,231.5 836.19,269.9 836.68,240.7 837.17,257.1 837.67,230.1 838.16,256.1 838.65,234.7 839.15,233.9 839.64,201.0 840.13,264.0 840.63,305.7 841.12,280.2 841.61,258.0 842.11,245.8 842.60,295.2 843.09,275.7 843.59,341.9 844.08,251.7 844.57,248.0 845.07,216.9 845.56,248.1 846.05,242.7 846.55,248.3 847.04,240.1 847.53,247.9 848.03,242.7 848.52,240.0 849.01,237.4 849.51,335.6 850.00,242.0 850.49,283.6 850.99,283.0 851.48,253.6 851.97,278.8 852.47,285.8 852.96,189.8 853.45,241.3 853.94,195.9 854.44,230.2 854.93,214.3 855.42,235.7 855.92,250.0 856.41,193.5 856.90,247.5 857.40,219.9 857.89,239.1 858.38,205.3 858.88,245.5 859.37,190.7 859.86,192.7 860.36,206.6 860.85,244.8 861.34,195.3 861.84,178.6 862.33,181.1 862.82,318.3 863.32,256.7 863.81,196.3 864.30,250.5 864.80,159.5 865.29,294.7 865.78,176.0 866.28,296.8 866.77,183.9 867.26,224.1 867.76,290.9 868.25,272.6 868.74,165.5 869.24,268.5 869.73,195.5 870.22,309.7 870.72,239.6 871.21,187.9 871.70,164.5 872.20,213.5 872.69,232.5 873.18,226.1 873.68,195.2 874.17,230.4 874.66,217.1 875.16,190.1 875.65,232.4 876.14,204.3 876.63,320.6 877.13,194.6 877.62,312.6 878.11,194.6 878.61,244.3 879.10,335.6 879.59,191.6 880.09,231.0 880.58,203.5 881.07,222.0 881.57,197.3 882.06,227.1 882.55,149.5 883.05,198.1 883.54,168.6 884.03,211.4 884.53,188.0 885.02,240.2 885.51,151.8 886.01,135.5 886.50,218.6 886.99,197.0 887.49,233.9 887.98,232.5 888.47,171.0 888.97,239.9 889.46,179.2 889.95,254.6 890.45,175.6 890.94,224.5 891.43,169.2 891.93,211.7 892.42,233.4 892.91,309.1 893.41,178.0 893.90,173.8 894.39,244.7 894.89,177.2 895.38,216.0 895.87,227.6 896.37,260.0 896.86,152.7 897.35,249.1 897.85,183.2 898.34,230.1 898.83,160.7 899.33,242.2 899.82,309.7 900.31,240.9 900.80,306.7 901.30,252.8 901.79,279.6 902.28,264.5 902.78,327.2 903.27,236.8 903.76,186.9 904.26,191.2 904.75,223.8 905.24,188.9 905.74,235.2 906.23,207.9 906.72,235.9 907.22,215.1 907.71,199.5 908.20,121.5 908.70,210.0 909.19,197.2 909.68,218.6 910.18,183.5 910.67,187.9 911.16,172.0 911.66,240.4 912.15,184.8 912.64,269.3 913.14,178.2 913.63,186.8 914.12,174.8 914.62,246.5 915.11,242.9 915.60,246.9 916.10,241.2 916.59,244.1 917.08,243.7 917.58,244.6 918.07,245.2 918.56,247.6 919.06,191.6 919.55,280.2 920.04,207.4 920.54,254.6 921.03,158.5 921.52,255.1 922.02,215.1 922.51,244.6 923.00,229.3 923.49,235.1 923.99,209.6 924.48,369.4 924.97,206.5 925.47,240.8 925.96,209.0 926.45,244.7 926.95,236.9 927.44,224.4 927.93,211.0 928.43,175.7 928.92,205.2 929.41,330.6 929.91,215.2 930.40,327.6 930.89,164.1 931.39,258.1 931.88,324.8 932.37,202.0 932.87,333.0 933.36,266.1 933.85,199.1 934.35,263.5 934.84,234.1 935.33,272.9 935.83,241.9 936.32,173.8 936.81,254.5 937.31,275.9 937.80,216.5 938.29,205.9 938.79,245.3 939.28,202.8 939.77,254.8 940.27,207.7 940.76,257.8 941.25,229.9 941.75,239.9 942.24,263.9 942.73,223.1 943.23,170.1 943.72,240.7 944.21,176.5 944.71,172.4 945.20,225.7 945.69,131.8 946.18,256.9 946.68,191.8 947.17,233.0 947.66,191.9 948.16,255.0 948.65,189.7 949.14,291.4 949.64,226.8 950.13,201.0 950.62,236.4 951.12,169.2 951.61,244.4 952.10,244.8 952.60,196.4 953.09,241.9 953.58,194.4 954.08,243.4 954.57,229.6 955.06,243.1 955.56,311.3 956.05,212.7 956.54,233.0 957.04,217.7 957.53,235.3 958.02,214.7 958.52,234.0 959.01,242.5 959.50,241.8 960.00,175.7 960.49,196.3 960.98,211.5 961.48,179.1 961.97,365.0 962.46,218.5 962.96,156.6 963.45,254.7 963.94,195.3 964.44,312.5 964.93,317.7 965.42,207.2 965.92,175.7 966.41,219.0 966.90,258.0 967.40,187.3 967.89,236.4 968.38,205.9 968.88,132.7 969.37,237.4 969.86,175.1 970.35,169.7 970.85,157.6 971.34,188.8 971.83,205.9 972.33,175.3 972.82,173.0 973.31,154.2 973.81,232.1 974.30,189.2 974.79,240.1 975.29,247.3 975.78,185.7 976.27,278.5 976.77,175.7 977.26,223.5 977.75,179.1 978.25,229.4 978.74,190.1 979.23,183.9 979.73,220.3 980.22,185.3 980.71,166.4 981.21,231.4 981.70,196.2 982.19,284.8 982.69,195.5 983.18,278.3 983.67,219.0 984.17,193.5 984.66,264.2 985.15,245.7 985.65,262.2 986.14,281.8 986.63,257.0 987.13,245.9 987.62,255.7 988.11,246.1 988.61,246.9 989.10,258.1 989.59,245.8 990.09,157.6 990.58,164.3 991.07,253.4 991.57,242.5 992.06,208.7 992.55,229.4 993.04,314.3 993.54,168.0 994.03,179.8 994.52,148.6 995.02,203.9 995.51,201.7 996.00,200.4 996.50,206.6 996.99,202.3 997.48,170.1 997.98,232.5 998.47,194.1 998.96,229.7 999.46,196.0 999.95,225.6 1000.44,191.6 1000.94,224.0 1001.43,218.5 1001.92,221.1 1002.42,203.9 1002.91,230.9 1003.40,243.4 1003.90,324.0 1004.39,199.1 1004.88,253.2 1005.38,201.5 1005.87,219.1 1006.36,250.4 1006.86,228.1 1007.35,255.0 1007.84,178.5 1008.34,209.7 1008.83,284.8 1009.32,213.6 1009.82,243.3 1010.31,190.8 1010.80,180.4 1011.30,221.4 1011.79,199.0 1012.28,246.1 1012.78,205.7 1013.27,230.5 1013.76,177.6 1014.26,244.7 1014.75,217.7 1015.24,232.2 1015.73,211.8 1016.23,246.8 1016.72,301.3 1017.21,207.5 1017.71,257.5 1018.20,239.8 1018.69,265.3 1019.19,227.1 1019.68,159.8 1020.17,161.8 1020.67,279.9 1021.16,188.1 1021.65,235.6 1022.15,174.3 1022.64,150.8 1023.13,242.4 1023.63,200.7 1024.12,228.6 1024.61,231.0 1025.11,179.1 1025.60,164.5 1026.09,345.9 1026.59,206.9 1027.08,243.4 1027.57,213.4 1028.07,249.4 1028.56,201.9 1029.05,242.7 1029.55,205.9 1030.04,241.2 1030.53,207.1 1031.03,273.9 1031.52,207.8 1032.01,242.6 1032.51,181.3 1033.00,255.1 1033.49,248.6 1033.99,199.8 1034.48,249.7 1034.97,145.4 1035.47,179.4 1035.96,229.1 1036.45,211.2 1036.95,231.6 1037.44,331.6 1037.93,286.7 1038.43,208.0 1038.92,267.5 1039.41,175.3 1039.90,278.1 1040.40,219.8 1040.89,305.5 1041.38,312.7 1041.88,234.6 1042.37,221.0 1042.86,259.0 1043.36,217.8 1043.85,238.6 1044.34,247.5 1044.84,224.2 1045.33,257.9 1045.82,219.8 1046.32,278.9 1046.81,187.9 1047.30,259.3 1047.80,204.1 1048.29,231.7 1048.78,244.4 1049.28,195.3 1049.77,261.1 1050.26,326.6 1050.76,211.7 1051.25,239.4 1051.74,206.5 1052.24,236.3 1052.73,217.2 1053.22,214.9 1053.72,240.6 1054.21,162.2 1054.70,227.0 1055.20,173.9 1055.69,299.8 1056.18,264.1 1056.68,171.0 1057.17,258.6 1057.66,222.0 1058.16,257.4 1058.65,220.3 1059.14,293.6 1059.64,212.7 1060.13,335.6 1060.62,220.6 1061.12,239.7 1061.61,221.2 1062.10,240.0 1062.59,216.9 1063.09,238.7 1063.58,218.2 1064.07,190.3 1064.57,238.7 1065.06,194.3 1065.55,239.2 1066.05,328.0 1066.54,208.5 1067.03,251.4 1067.53,222.9 1068.02,262.3 1068.51,175.7 1069.01,261.8 1069.50,234.3 1069.99,246.9 1070.49,214.5 1070.98,239.7 1071.47,206.5 1071.97,319.1 1072.46,221.7 1072.95,258.9 1073.45,219.7 1073.94,242.5 1074.43,212.7 1074.93,260.9 1075.42,255.9 1075.91,248.4 1076.41,261.8 1076.90,297.8 1077.39,238.3 1077.89,291.3 1078.38,244.7 1078.87,271.4 1079.37,359.5 1079.86,334.8 1080.35,241.5 1080.85,270.2 1081.34,333.5 1081.83,404.8 1082.33,214.4 1082.82,224.2 1083.31,261.4 1083.81,224.6 1084.30,252.5 1084.79,236.0 1085.28,200.9 1085.78,242.8 1086.27,250.6 1086.76,219.5 1087.26,174.8 1087.75,253.0 1088.24,318.7 1088.74,230.4 1089.23,239.8 1089.72,229.5 1090.22,227.1 1090.71,245.0 1091.20,231.6 1091.70,243.5 1092.19,232.3 1092.68,232.3 1093.18,246.0 1093.67,165.0 1094.16,244.7 1094.66,206.7 1095.15,318.3 1095.64,213.4 1096.14,253.4 1096.63,222.0 1097.12,185.0 1097.62,256.2 1098.11,238.4 1098.60,269.1 1099.10,289.1 1099.59,292.8 1100.08,197.2 1100.58,240.1 1101.07,204.3 1101.56,275.5 1102.06,215.8 1102.55,278.9 1103.04,179.4 1103.54,228.1 1104.03,200.0 1104.52,226.1 1105.02,182.0 1105.51,149.5 1106.00,186.1 1106.50,222.6 1106.99,172.0 1107.48,317.7 1107.97,160.7 1108.47,292.9 1108.96,274.9 1109.45,288.9 1109.95,239.4 1110.44,314.3 1110.93,237.4 1111.43,336.0 1111.92,239.5 1112.41,240.2 1112.91,241.6 1113.40,239.9 1113.89,241.3 1114.39,239.7 1114.88,239.9 1115.37,187.9 1115.87,241.5 1116.36,201.6 1116.85,224.1 1117.35,209.0 1117.84,227.8 1118.33,171.0 1118.83,215.5 1119.32,242.3 1119.81,272.9 1120.31,202.7 1120.80,206.0 1121.29,199.1 1121.79,236.8 1122.28,202.8 1122.77,223.9 1123.27,207.0 1123.76,224.8 1124.25,154.6 1124.75,221.1 1125.24,201.9 1125.73,301.3 1126.23,220.1 1126.72,253.9 1127.21,267.7 1127.71,180.4 1128.20,270.3 1128.69,217.9 1129.19,260.4 1129.68,275.9 1130.17,186.2 1130.67,176.6 1131.16,240.7 1131.65,230.2 1132.14,239.6 1132.64,225.2 1133.13,227.3 1133.62,240.7 1134.12,220.6 1134.61,249.8 1135.10,250.4 1135.60,335.6 1136.09,256.3 1136.58,280.7 1137.08,253.6 1137.57,280.2 1138.06,252.1 1138.56,290.5 1139.05,288.5 1139.54,216.8 1140.04,292.8 1140.53,237.0 1141.02,283.9 1141.52,242.0 1142.01,166.9 1142.50,245.7 1143.00,310.7 1143.49,201.5 1143.98,219.4 1144.48,261.4 1144.97,180.4 1145.46,260.8 1145.96,254.8 1146.45,184.6 1146.94,249.3 1147.44,170.1 1147.93,238.6 1148.42,216.7 1148.92,261.4 1149.41,245.0 1149.90,211.7 1150.40,235.6 1150.89,170.1 1151.38,308.7 1151.88,270.2 1152.37,257.4 1152.86,289.0 1153.36,217.8 1153.85,306.7 1154.34,256.7 1154.83,306.6 1155.33,313.7 1155.82,238.7 1156.31,281.4 1156.81,175.1 1157.30,250.7 1157.79,197.3 1158.29,183.8 1158.78,278.4 1159.27,185.7 1159.77,283.4 1160.26,221.8 1160.75,167.3 1161.25,238.1 1161.74,206.2 1162.23,268.4 1162.73,212.4 1163.22,265.7 1163.71,274.9 1164.21,207.8 1164.70,203.1 1165.19,200.0 1165.69,257.4 1166.18,238.1 1166.67,203.5 1167.17,246.5 1167.66,191.0 1168.15,237.5 1168.65,218.9 1169.14,220.2 1169.63,258.3 1170.13,340.0 1170.62,250.7 1171.11,297.6 1171.61,263.2 1172.10,207.5 1172.59,296.5 1173.09,278.8 1173.58,308.7 1174.07,256.4 1174.57,260.2 1175.06,265.1 1175.55,259.6 1176.05,271.9 1176.54,248.7 1177.03,158.5 1177.53,232.9 1178.02,186.8 1178.51,235.7 1179.00,168.2 1179.50,240.7 1179.99,242.1 1180.48,243.6 1180.98,237.8 1181.47,240.0 1181.96,239.5 1182.46,237.9 1182.95,243.7 1183.44,236.1 1183.94,212.1 1184.43,328.2 1184.92,230.1 1185.42,241.5 1185.91,232.0 1186.40,243.0 1186.90,232.0 1187.39,222.4 1187.88,242.1 1188.38,228.3 1188.87,246.5 1189.36,232.1 1189.86,246.6 1190.35,228.4 1190.84,280.8 1191.34,229.7 1191.83,226.2 1192.32,275.6 1192.82,262.0 1193.31,234.7 1193.80,328.6 1194.30,232.7 1194.79,302.4 1195.28,254.6 1195.78,326.1 1196.27,364.4 1196.76,238.4 1197.26,278.8 1197.75,200.0 1198.24,308.9 1198.74,219.5 1199.23,301.3 1199.72,316.7 1200.22,220.1 1200.71,202.6 1201.20,259.4 1201.69,183.7 1202.19,234.3 1202.68,253.5 1203.17,227.5 1203.67,220.5 1204.16,216.8 1204.65,320.6 1205.15,264.2 1205.64,311.6 1206.13,261.1 1206.63,314.3 1207.12,244.0 1207.61,328.6 1208.11,254.4 1208.60,290.4 1209.09,210.7 1209.59,290.6 1210.08,230.6 1210.57,282.9 1211.07,261.8 1211.56,232.7 1212.05,307.7 1212.55,215.0 1213.04,257.9 1213.53,210.3 1214.03,257.2 1214.52,225.8 1215.01,261.0 1215.51,212.3 1216.00,157.0 1216.49,248.6 1216.99,202.5 1217.48,240.9 1217.97,276.5 1218.47,196.3 1218.96,245.6 1219.45,204.3 1219.95,257.2 1220.44,238.6 1220.93,179.4 1221.43,274.4 1221.92,195.0 1222.41,315.7 1222.91,189.3 1223.40,244.9 1223.89,182.9 1224.38,243.1 1224.88,182.3 1225.37,174.4 1225.86,226.3 1226.36,206.0 1226.85,176.4 1227.34,242.7 1227.84,189.7 1228.33,212.2 1228.82,322.0 1229.32,169.7 1229.81,269.9 1230.30,228.7 1230.80,285.0 1231.29,218.7 1231.78,260.4 1232.28,193.5 1232.77,228.8 1233.26,287.8 1233.76,229.0 1234.25,200.9 1234.74,256.0 1235.24,209.1 1235.73,240.0 1236.22,252.3 1236.72,203.1 1237.21,149.0 1237.70,229.5 1238.20,225.0 1238.69,257.0 1239.18,389.3 1239.68,232.7 1240.17,265.6 1240.66,218.1 1241.16,329.9 1241.65,286.1 1242.14,342.3 1242.64,352.5 1243.13,251.3 1243.62,256.7 1244.12,251.1 1244.61,255.1 1245.10,255.8 1245.60,251.6 1246.09,199.1 1246.58,255.1 1247.08,249.5 1247.57,201.6 1248.06,319.7 1248.55,210.3 1249.05,311.7 1249.54,160.4 1250.03,284.3 1250.53,271.2 1251.02,202.9 1251.51,317.6 1252.01,200.9 1252.50,324.2 1252.99,219.3 1253.49,308.0 1253.98,308.2 1254.47,156.1 1254.97,301.3 1255.46,251.4 1255.95,293.3 1256.45,266.7 1256.94,352.5 1257.43,186.0 1257.93,312.8 1258.42,251.2 1258.91,294.8 1259.41,188.8 1259.90,323.6 1260.39,161.7 1260.89,286.2 1261.38,180.6 1261.87,288.8 1262.37,216.7 1262.86,178.5 1263.35,225.5 1263.85,188.9 1264.34,238.8 1264.83,264.9 1265.33,182.2 1265.82,253.8 1266.31,211.2 1266.81,262.7 1267.30,218.2 1267.79,255.4 1268.29,203.7 1268.78,260.6 1269.27,221.6 1269.77,262.7 1270.26,408.2 1270.75,270.6 1271.24,212.1 1271.74,335.8 1272.23,228.2 1272.72,283.2 1273.22,180.4 1273.71,328.6 1274.20,244.8 1274.70,351.5 1275.19,198.8 1275.68,232.3 1276.18,214.2 1276.67,183.6 1277.16,234.6 1277.66,188.4 1278.15,248.6 1278.64,189.5 1279.14,186.0 1279.63,229.3 1280.12,219.0 1280.62,269.9 1281.11,186.9 1281.60,257.8 1282.10,189.7 1282.59,267.4 1283.08,202.6 1283.58,261.5 1284.07,145.8 1284.56,267.3 1285.06,315.7 1285.55,216.3 1286.04,261.8 1286.54,272.6 1287.03,214.0 1287.52,275.8 1288.02,235.0 1288.51,301.7 1289.00,285.1 1289.50,182.8 1289.99,269.5 1290.48,233.8 1290.98,288.8 1291.47,204.8 1291.96,275.1 1292.46,291.8 1292.95,189.7 1293.44,210.6 1293.93,278.5 1294.43,170.1 1294.92,250.5 1295.41,277.5 1295.91,407.8 1296.40,199.2 1296.89,245.0 1297.39,343.0 1297.88,186.0 1298.37,339.3 1298.87,236.7 1299.36,345.5 1299.85,229.3 1300.35,299.6 1300.84,202.8 1301.33,281.1 1301.83,224.9 1302.32,244.6 1302.81,306.3 1303.31,205.6 1303.80,256.3 1304.29,272.5 1304.79,240.4 1305.28,300.6 1305.77,207.7 1306.27,191.2 1306.76,302.7 1307.25,205.6 1307.75,257.0 1308.24,207.8 1308.73,251.0 1309.23,265.7 1309.72,182.3 1310.21,275.6 1310.71,278.9 1311.20,197.9 1311.69,187.1 1312.19,262.4 1312.68,159.8 1313.17,276.7 1313.67,221.8 1314.16,248.1 1314.65,292.8 1315.15,181.6 1315.64,166.4 1316.13,261.2 1316.62,280.8 1317.12,302.7 1317.61,228.2 1318.10,225.3 1318.60,233.3 1319.09,227.7 1319.58,232.9 1320.08,228.5 1320.57,232.7 1321.06,228.2 1321.56,150.5 1322.05,180.9 1322.54,270.9 1323.04,162.0 1323.53,153.2 1324.02,149.0 1324.52,249.9 1325.01,208.1 1325.50,241.3 1326.00,207.7 1326.49,239.7 1326.98,199.1 1327.48,340.5 1327.97,217.9 1328.46,232.3 1328.96,214.0 1329.45,228.3 1329.94,233.7 1330.44,222.3 1330.93,216.2 1331.42,233.6 1331.92,229.5 1332.41,217.5 1332.90,234.1 1333.40,186.9 1333.89,329.2 1334.38,231.8 1334.88,233.6 1335.37,221.6 1335.86,210.7 1336.36,232.9 1336.85,201.9 1337.34,251.9 1337.84,227.7 1338.33,247.5 1338.82,219.9 1339.32,217.8 1339.81,235.1 1340.30,239.0 1340.79,294.2 1341.29,245.0 1341.78,191.0 1342.27,239.4 1342.77,245.1 1343.26,223.6 1343.75,218.4 1344.25,241.0 1344.74,215.9 1345.23,217.9 1345.73,228.2 1346.22,312.7 1346.71,183.8 1347.21,293.6 1347.70,282.0 1348.19,206.8 1348.69,339.6 1349.18,206.7 1349.67,197.2 1350.17,334.0 1350.66,261.4 1351.15,363.4 1351.65,247.0 1352.14,250.2 1352.63,246.7 1353.13,249.6 1353.62,251.5 1354.11,250.4 1354.61,197.8 1355.10,243.4 1355.59,223.4 1356.09,236.3 1356.58,386.3 1357.07,242.3 1357.57,280.1 1358.06,219.6 1358.55,250.0 1359.05,295.3 1359.54,226.3 1360.03,288.0 1360.53,299.9 1361.02,310.7 1361.51,213.1 1362.01,234.8 1362.50,234.8 1362.99,226.5 1363.48,229.9 1363.98,236.4 1364.47,219.6 1364.96,229.5 1365.46,223.3 1365.95,222.7 1366.44,235.7 1366.94,215.9 1367.43,308.7 1367.92,220.2 1368.42,292.3 1368.91,197.2 1369.40,306.7 1369.90,243.0 1370.39,264.4 1370.88,200.0 1371.38,305.2 1371.87,312.7 1372.36,268.7 1372.86,241.1 1373.35,282.9 1373.84,262.4 1374.34,281.0 1374.83,212.7 1375.32,209.4 1375.82,290.8 1376.31,222.3 1376.80,227.2 1377.30,243.9 1377.79,161.7 1378.28,262.3 1378.78,206.0 1379.27,260.8 1379.76,227.2 1380.26,205.9 1380.75,202.4 1381.24,287.2 1381.74,218.9 1382.23,231.5 1382.72,207.3 1383.22,235.9 1383.71,214.2 1384.20,234.9 1384.70,165.8 1385.19,233.3 1385.68,210.2 1386.17,300.7 1386.67,202.6 1387.16,276.5 1387.65,204.2 1388.15,248.8 1388.64,251.7 1389.13,194.0 1389.63,274.9 1390.12,217.2 1390.61,278.9 1391.11,212.9 1391.60,207.5 1392.09,242.5 1392.59,225.6 1393.08,238.1 1393.57,231.4 1394.07,249.4 1394.56,216.8 1395.05,253.2 1395.55,245.5 1396.04,248.4 1396.53,252.9 1397.03,247.2 1397.52,315.3 1398.01,247.5 1398.51,288.1 1399.00,271.3 1399.49,213.5 1399.99,219.5 1400.48,286.8 1400.97,216.7 1401.47,275.9 1401.96,318.7 1402.45,256.8 1402.95,314.3 1403.44,230.5 1403.93,199.5 1404.43,316.6 1404.92,352.1 1405.41,208.0 1405.91,249.4 1406.40,237.7 1406.89,203.8 1407.39,249.4 1407.88,212.7 1408.37,232.0 1408.87,230.3 1409.36,200.4 1409.85,334.6 1410.34,216.5 1410.84,219.3 1411.33,239.7 1411.82,207.8 1412.32,223.6 1412.81,204.7 1413.30,237.2 1413.80,237.3 1414.29,217.3 1414.78,236.3 1415.28,207.5 1415.77,195.0 1416.26,234.7 1416.76,233.7 1417.25,234.5 1417.74,308.7 1418.24,243.3 1418.73,234.5 1419.22,243.6 1419.72,236.9 1420.21,239.6 1420.70,232.2 1421.20,192.9 1421.69,244.2 1422.18,232.2 1422.68,237.6 1423.17,229.5 1423.66,236.4 1424.16,227.1 1424.65,250.6 1425.14,293.8 1425.64,250.7 1426.13,244.8 1426.62,240.2 1427.12,264.1 1427.61,248.9 1428.10,273.9 1428.60,252.5 1429.09,181.3 1429.58,270.9 1430.08,190.1 1430.57,270.9 1431.06,191.7 1431.56,269.9 1432.05,187.9 1432.54,341.9 1433.03,190.1 1433.53,246.8 1434.02,246.1 1434.51,224.0 1435.01,249.3 1435.50,201.0 1435.99,183.6 1436.49,249.2 1436.98,241.6 1437.47,249.7 1437.97,241.5 1438.46,247.1 1438.95,238.3 1439.45,247.3 1439.94,408.2 1440.43,251.0 1440.93,215.9 1441.42,230.7 1441.91,253.0 1442.41,222.7 1442.90,220.0 1443.39,172.9 1443.89,255.1 1444.38,255.5 1444.87,254.8 1445.37,232.5 1445.86,228.1 1446.35,256.9 1446.85,230.1 1447.34,257.2 1447.83,317.7 1448.33,240.6 1448.82,177.2 1449.31,230.9 1449.81,275.2 1450.30,208.4 1450.79,314.4 1451.29,317.3 1451.78,304.5 1452.27,200.4 1452.77,284.2 1453.26,203.9 1453.75,220.8 1454.25,267.5 1454.74,189.7 1455.23,319.3 1455.73,192.1 1456.22,229.8 1456.71,256.9 1457.20,193.4 1457.70,147.3 1458.19,260.2 1458.68,199.0 1459.18,244.7 1459.67,265.3 1460.16,206.5 1460.66,194.7 1461.15,191.0 1461.64,250.0 1462.14,247.6 1462.63,211.9 1463.12,243.4 1463.62,208.7 1464.11,201.0 1464.60,237.0 1465.10,342.9 1465.59,228.6 1466.08,250.3 1466.58,195.3 1467.07,238.4 1467.56,225.4 1468.06,217.9 1468.55,248.7 1469.04,187.9 1469.54,237.9 1470.03,190.6 1470.52,255.6 1471.02,280.4 1471.51,192.3 1472.00,245.6 1472.50,214.4 1472.99,235.3 1473.48,186.4 1473.98,229.9 1474.47,251.3 1474.96,229.7 1475.46,251.8 1475.95,231.0 1476.44,259.0 1476.94,211.6 1477.43,244.1 1477.92,230.8 1478.42,256.2 1478.91,343.5 1479.40,238.0 1479.89,219.6 1480.39,222.4 1480.88,254.2 1481.37,224.8 1481.87,164.5 1482.36,252.8 1482.85,235.9 1483.35,203.8 1483.84,287.8 1484.33,178.5 1484.83,249.0 1485.32,282.9 1485.81,233.8 1486.31,209.7 1486.80,201.0 1487.29,293.4 1487.79,208.6 1488.28,252.1 1488.77,207.2 1489.27,236.4 1489.76,187.5 1490.25,209.3" fill="none" stroke="#004586" stroke-width="4.2" stroke-linejoin="round" stroke-linecap="round"/>
<line x1="284.5" y1="0" x2="284.5" y2="829" stroke="#ff0000" stroke-width="3.33"/>
<line x1="796.5" y1="0" x2="796.5" y2="829" stroke="#ff0000" stroke-width="3.33"/>
<g font-weight="bold" font-size="23" fill="#ff0000">
<text x="142.8" y="577" textLength="17.2" lengthAdjust="spacingAndGlyphs">1.</text>
<text x="166.8" y="577" textLength="70.0" lengthAdjust="spacingAndGlyphs">Initial</text>
<text x="423.0" y="577" textLength="19.2" lengthAdjust="spacingAndGlyphs">2.</text>
<text x="449.0" y="577" textLength="84.2" lengthAdjust="spacingAndGlyphs">Credits</text>
<text x="540.4" y="577" textLength="122.6" lengthAdjust="spacingAndGlyphs">exhausted</text>
<text x="1074.6" y="577" textLength="19.2" lengthAdjust="spacingAndGlyphs">3.</text>
<text x="1101.2" y="577" textLength="25.4" lengthAdjust="spacingAndGlyphs">T2</text>
<text x="1133.6" y="577" textLength="115.4" lengthAdjust="spacingAndGlyphs">Unlimited</text>

</g>
<line x1="1529" y1="414.3" x2="1567" y2="414.3" stroke="#004586" stroke-width="4"/>
<text x="1571" y="420" font-size="16" fill="#000" textLength="77" lengthAdjust="spacing">t2.medium</text>
</svg>
</body></html>
